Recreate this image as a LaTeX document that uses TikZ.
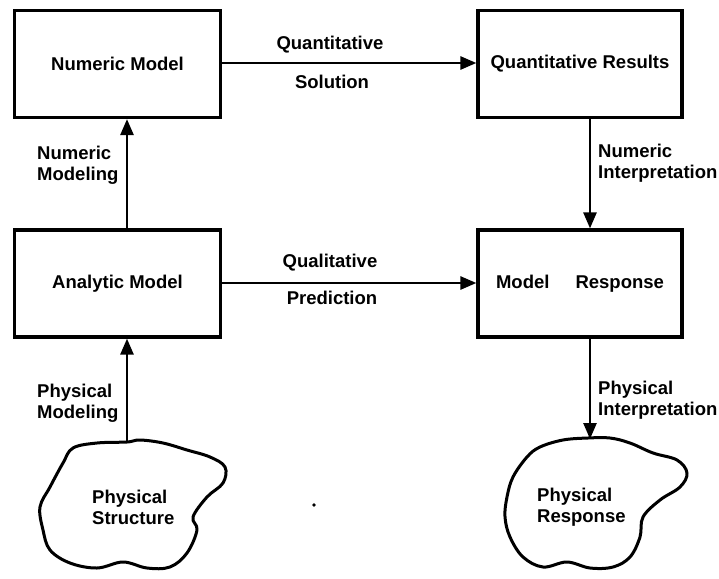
\documentclass[tikz,border=0pt]{standalone}
\usepackage{fontspec}
\setmainfont{Liberation Sans}
\usetikzlibrary{arrows.meta}
\tikzset{
  modelbox/.style={draw, line width=3.2pt, minimum width=206pt, minimum height=107pt, inner sep=0pt, font=\bfseries\fontsize{18.5}{21}\selectfont},
  lbl/.style={inner sep=0pt, font=\bfseries\fontsize{18.5}{21}\selectfont, align=left},
  arr/.style={line width=2.6pt, -{Triangle[length=16pt,width=13pt]}},
  cloudline/.style={line width=3pt, line join=round},
}
\begin{document}
\begin{tikzpicture}[x=1pt,y=-1pt]
\useasboundingbox (0,0) rectangle (719,578);
% boxes
\node[modelbox] (num) at (117.5,64) {Numeric Model};
\node[modelbox, minimum width=204pt] (qres) at (580,64) {Quantitative Results};
\node[modelbox] (ana) at (117.5,283.5) {Analytic Model};
\node[modelbox, minimum width=204pt] (mres) at (580,283.5) {Model\hspace{26pt}Response};
% clouds
\draw[cloudline] plot[smooth cycle, tension=0.6] coordinates {
 (127,442) (97,443) (73,448) (63,463) (50,487) (40,507) (43,530) (50,550)
 (70,563) (97,568) (123,562) (147,568) (170,567) (187,553) (197,530) (193,517)
 (207,497) (223,483) (225,467) (210,457) (187,450) (163,443) (140,440)};
\draw[cloudline] plot[smooth cycle, tension=0.6] coordinates {
 (588,438) (563,440) (540,447) (527,457) (513,477) (507,497) (505,517) (510,537)
 (523,557) (543,567) (567,562) (590,568) (613,567) (630,557) (640,537) (643,517)
 (660,500) (680,487) (687,473) (677,460) (653,453) (630,443) (610,438)};
\coordinate (stop) at (127,442);
\coordinate (rtop) at (590,439);
\node[lbl, anchor=west] (pstruct) at (92,507) {Physical\\Structure};
\node[lbl, anchor=west] (presp) at (537,507) {Physical\\Response};
% connectors
\draw[arr] (num.east |- 0,63) -- (qres.west |- 0,63);
\draw[arr] (ana.east |- 0,283) -- (mres.west |- 0,283);
\draw[arr] (ana.north -| stop) -- (num.south -| stop);
\draw[arr] (stop) -- (ana.south -| stop);
\draw[arr] (qres.south -| rtop) -- (mres.north -| rtop);
\draw[arr] (mres.south -| rtop) -- (rtop);
% labels
\node[lbl] (l1) at (330,45) {Quantitative};
\node[lbl] (l2) at (332,82) {Solution};
\node[lbl] (l3) at (330,263) {Qualitative};
\node[lbl] (l4) at (332,298) {Prediction};
\node[lbl, anchor=west] (l5) at (37,165) {Numeric\\Modeling};
\node[lbl, anchor=west] (l6) at (37,403) {Physical\\Modeling};
\node[lbl, anchor=west] (l7) at (598,163) {Numeric\\Interpretation};
\node[lbl, anchor=west] (l8) at (598,400) {Physical\\Interpretation};
% stray dot
\fill (314,505) circle (1.8);
\end{tikzpicture}
\end{document}
